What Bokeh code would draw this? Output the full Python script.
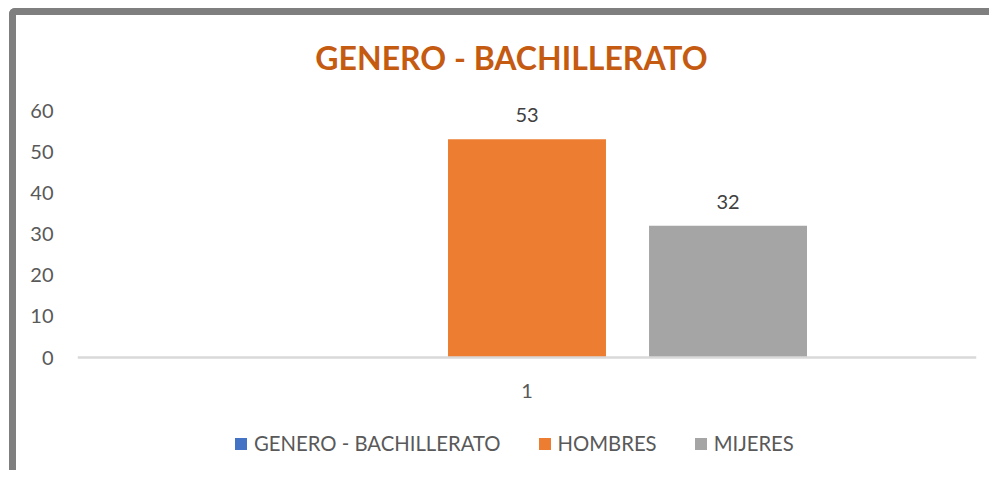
from bokeh.plotting import figure
from bokeh.models import (FactorRange, Range1d, FixedTicker, Legend, LegendItem,
                          LabelSet, Label, Span, ColumnDataSource)
from bokeh.core.properties import value
from bokeh.transform import dodge
from bokeh.embed import file_html
from bokeh.resources import INLINE

# ---- data ----
title_text = "GENERO - BACHILLERATO"
categories = ["1"]
series = ["GENERO - BACHILLERATO", "HOMBRES", "MIJERES"]
values = [None, 53, 32]
colors = ["#4472C4", "#ED7D31", "#A5A5A5"]
y_ticks = [0, 10, 20, 30, 40, 50, 60]

FONT = "Lato"

p = figure(width=980, height=462, title=None,
           x_range=FactorRange(factors=categories, range_padding=0),
           y_range=Range1d(-29.15, 83.08), x_axis_location=None,
           output_backend="svg", toolbar_location=None,
           min_border_left=61, min_border_right=20, min_border_top=0, min_border_bottom=0,
           background_fill_color="white", border_fill_color="white",
           styles={"border-top": "7px solid #7f7f7f", "border-left": "7px solid #7f7f7f",
                   "border-top-left-radius": "6px", "margin-top": "8px", "margin-left": "9px"})
p.outline_line_color = None
p.grid.grid_line_color = None

# chart title
p.add_layout(Label(x=434, y=420, x_units="screen", y_units="screen", text=title_text,
                   text_align="center", text_baseline="middle", text_font=FONT,
                   text_font_size="32px", text_font_style="bold", text_color="#C55A11"))

# category axis line at zero
p.add_layout(Span(location=0, dimension="width", line_color="#D9D9D9", line_width=2.5))

offsets = [-0.2236, 0.0, 0.2236]
bar_w = 0.1757
items = []
for name, val, col, off in zip(series, values, colors, offsets):
    top = float("nan") if val is None else val
    src = ColumnDataSource(dict(x=categories, top=[top],
                                lab=["" if val is None else str(val)]))
    r = p.vbar(x=dodge("x", off, range=p.x_range), top="top", width=bar_w, source=src,
               fill_color=col, line_color=None)
    items.append(LegendItem(label=name, renderers=[r]))
    if val is not None:
        p.add_layout(LabelSet(x=dodge("x", off, range=p.x_range), y="top", text="lab",
                              source=src, y_offset=24, text_align="center",
                              text_baseline="middle", text_font=value(FONT),
                              text_font_size=value("20px"), text_color="#404040"))

# category tick label
cat_src = ColumnDataSource(dict(x=categories, y=[0] * len(categories), t=categories))
p.add_layout(LabelSet(x="x", y="y", text="t", source=cat_src, y_offset=-33,
                      text_align="center", text_baseline="middle", text_font=value(FONT),
                      text_font_size=value("20px"), text_color="#595959"))

p.yaxis.ticker = FixedTicker(ticks=y_ticks)
p.yaxis.axis_line_color = None
p.yaxis.major_tick_line_color = None
p.yaxis.minor_tick_line_color = None
p.yaxis.major_label_standoff = 18
p.yaxis.major_label_text_font = FONT
p.yaxis.major_label_text_font_size = "20px"
p.yaxis.major_label_text_color = "#595959"

legend = Legend(items=items, orientation="horizontal", location=(156, 22),
                border_line_color=None, background_fill_alpha=0,
                label_text_font=FONT, label_text_font_size="20.3px", label_height=20,
                label_text_color="#595959", glyph_width=15, glyph_height=15,
                spacing=36, label_standoff=6, margin=0, padding=0)
p.add_layout(legend)

open("out.html", "w").write(file_html(p, INLINE))
